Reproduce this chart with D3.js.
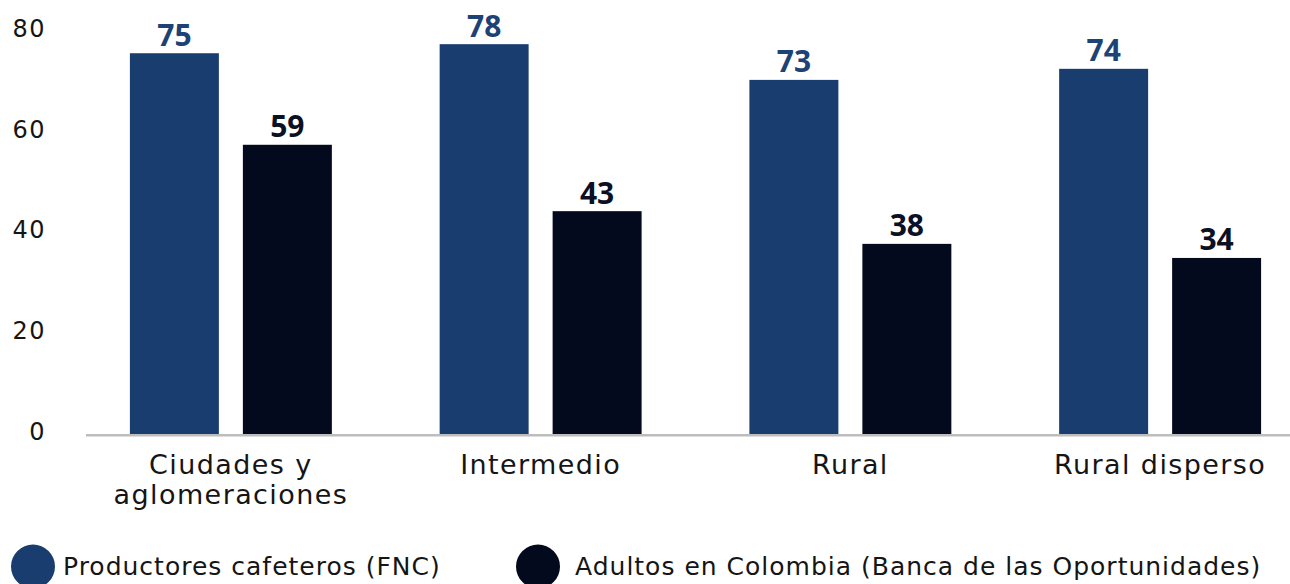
<!DOCTYPE html>
<html>
<head>
<meta charset="utf-8">
<script src="https://cdn.jsdelivr.net/npm/d3@7"></script>
<style>
  html, body { margin: 0; padding: 0; background: #ffffff; }
  svg { display: block; }
</style>
</head>
<body>
<svg id="chart" width="1290" height="584"></svg>
<script>
// ---- data ----
const categories = ["Ciudades y aglomeraciones", "Intermedio", "Rural", "Rural disperso"];
const categoryLines = [["Ciudades y", "aglomeraciones"], ["Intermedio"], ["Rural"], ["Rural disperso"]];
const seriesNames = ["Productores cafeteros (FNC)", "Adultos en Colombia (Banca de las Oportunidades)"];
// bar heights
const productoresValues = [75.7, 77.5, 70.4, 72.6];
const adultosValues = [57.5, 44.3, 37.8, 35.0];
// printed data labels
const productoresLabels = ["75", "78", "73", "74"];
const adultosLabels = ["59", "43", "38", "34"];
const yTicks = [0, 20, 40, 60, 80];

// ---- styles ----
const colors = ["#183d6e", "#040a1e"];
const labelColors = ["#1c4276", "#0b1024"];
const textColor = "#151515";
const regFont = "'DejaVu Sans', sans-serif";
const boldFont = "'Open Sans', sans-serif";

const svg = d3.select("#chart");

const rows = categories.map((c, i) => ({
  cat: c,
  lines: categoryLines[i],
  vals: [
    { s: seriesNames[0], v: productoresValues[i], lab: productoresLabels[i], k: 0 },
    { s: seriesNames[1], v: adultosValues[i], lab: adultosLabels[i], k: 1 }
  ]
}));

const x0 = d3.scaleBand().domain(categories).range([76, 1315])
  .paddingInner(0.348).paddingOuter(0.174);
const x1 = d3.scaleBand().domain(seriesNames).range([0, x0.bandwidth()])
  .paddingInner(0.2124).paddingOuter(0);
const y = d3.scaleLinear().domain([0, 80]).range([434, 31.6]);

// y axis labels
const yAxis = d3.axisLeft(y).tickValues(yTicks).tickSize(0).tickPadding(0);
const gy = svg.append("g").attr("transform", "translate(46,0)").call(yAxis);
gy.select(".domain").remove();
gy.selectAll("text")
  .attr("dy", "0.21em")
  .attr("font-family", regFont)
  .attr("font-size", 24)
  .attr("letter-spacing", "1.5px")
  .attr("fill", textColor);

// bars
const groups = svg.append("g").selectAll("g")
  .data(rows).join("g")
  .attr("transform", d => `translate(${x0(d.cat)},0)`);

groups.selectAll("rect")
  .data(d => d.vals).join("rect")
  .attr("x", d => x1(d.s))
  .attr("width", x1.bandwidth())
  .attr("y", d => y(d.v))
  .attr("height", d => y(0) - y(d.v))
  .attr("fill", d => colors[d.k]);

groups.selectAll("text.val")
  .data(d => d.vals).join("text")
  .attr("class", "val")
  .attr("x", d => x1(d.s) + x1.bandwidth() / 2)
  .attr("y", d => y(d.v) - 7.5)
  .attr("text-anchor", "middle")
  .attr("font-family", boldFont)
  .attr("font-weight", 700)
  .attr("font-size", 30)
  .attr("fill", d => labelColors[d.k])
  .text(d => d.lab);

// x axis baseline
svg.append("line")
  .attr("x1", 86).attr("x2", 1290)
  .attr("y1", y(0) + 1.3).attr("y2", y(0) + 1.3)
  .attr("stroke", "#bdbdbd").attr("stroke-width", 2.6);

// category labels
const cl = svg.append("g").selectAll("text")
  .data(rows).join("text")
  .attr("x", d => x0(d.cat) + x0.bandwidth() / 2)
  .attr("y", 474)
  .attr("text-anchor", "middle")
  .attr("font-family", regFont)
  .attr("font-size", 27)
  .attr("letter-spacing", "1.4px")
  .attr("fill", textColor);
cl.selectAll("tspan")
  .data(d => d.lines.map((t, i) => ({ t, i, cx: x0(d.cat) + x0.bandwidth() / 2 })))
  .join("tspan")
  .attr("x", d => d.cx)
  .attr("dy", d => d.i === 0 ? 0 : 30)
  .text(d => d.t);

// legend
const legendX = [33, 538];
const legendTextDx = [30, 37];
const lg = svg.append("g").selectAll("g")
  .data(seriesNames).join("g")
  .attr("transform", (d, i) => `translate(${legendX[i]},566.5)`);
lg.append("circle").attr("r", 22).attr("fill", (d, i) => colors[i]);
lg.append("text")
  .attr("x", (d, i) => legendTextDx[i]).attr("y", 8.5)
  .attr("font-family", regFont)
  .attr("font-size", 25)
  .attr("letter-spacing", "1px")
  .attr("fill", textColor)
  .text(d => d);
</script>
</body>
</html>
